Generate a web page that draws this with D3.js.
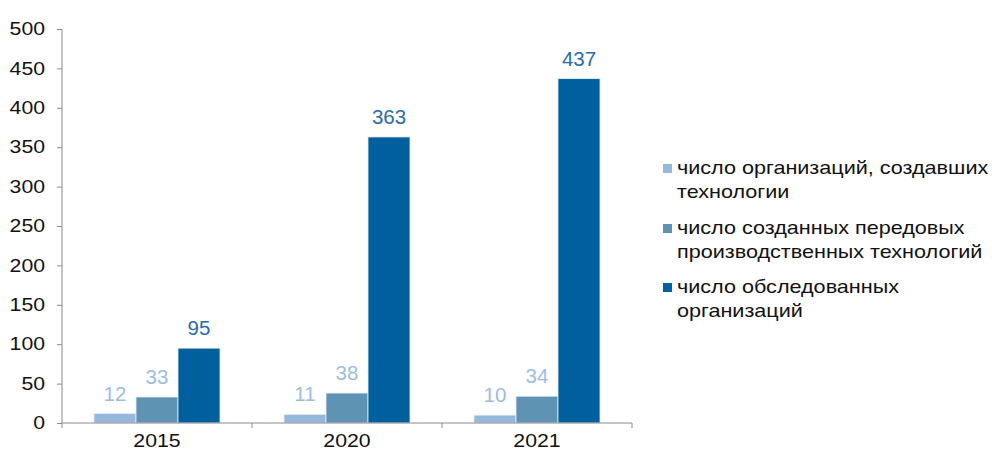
<!DOCTYPE html>
<html>
<head>
<meta charset="utf-8">
<script src="https://cdn.jsdelivr.net/npm/d3@7"></script>
<style>
  body { margin: 0; background: #fff; }
  svg { display: block; font-family: "Liberation Sans", Arial, sans-serif; }
</style>
</head>
<body>
<svg id="chart" width="992" height="457"></svg>
<script>
const years = ["2015", "2020", "2021"];
const seriesNames = [
  ["число организаций, создавших", "технологии"],
  ["число созданных передовых", "производственных технологий"],
  ["число обследованных", "организаций"]
];
const orgsCreated = [12, 11, 10];
const techCreated = [33, 38, 34];
const orgsSurveyed = [95, 363, 437];
const yTicks = [0, 50, 100, 150, 200, 250, 300, 350, 400, 450, 500];

const colors = ["#95b8dc", "#5f93b3", "#00609e"];
const labelColors = ["#9dbde0", "#9dbde0", "#2a6ca8"];

const series = [orgsCreated, techCreated, orgsSurveyed];

const svg = d3.select("#chart");
const plotLeft = 62, plotRight = 632, plotTop = 29, plotBottom = 423;

const x = d3.scaleBand().domain(years).range([plotLeft, plotRight]).paddingInner(0).paddingOuter(0);
const y = d3.scaleLinear().domain([0, 500]).range([plotBottom, plotTop]);
const xs = d3.scaleBand().domain(d3.range(series.length)).range([32, 190 - 32]);

// the source picture is a bit wider than tall, so text is stretched
function stretched(sel, px, py, sx) {
  return sel.attr("transform", `translate(${px},${py}) scale(${sx},1)`);
}

// y axis
const yAxis = svg.append("g")
  .attr("transform", `translate(${plotLeft},0)`)
  .call(d3.axisLeft(y).tickValues(yTicks).tickSize(5).tickPadding(12));
yAxis.select(".domain").attr("stroke", "#8c8c8c").attr("d", `M0,${plotBottom}V${plotTop}`);
yAxis.selectAll(".tick line").attr("stroke", "#8c8c8c");
yAxis.selectAll(".tick text")
  .attr("font-size", 18)
  .attr("fill", "#111")
  .attr("font-family", "Liberation Sans, Arial, sans-serif")
  .attr("x", -17 / 1.18)
  .attr("transform", "scale(1.18,1)");

// bars
years.forEach((yr, i) => {
  const g = svg.append("g").attr("transform", `translate(${x(yr)},0)`);
  series.forEach((s, k) => {
    g.append("rect")
      .attr("x", xs(k))
      .attr("y", y(s[i]))
      .attr("width", xs.bandwidth())
      .attr("height", plotBottom - y(s[i]))
      .attr("fill", colors[k])
      .attr("stroke", "#e8eef5")
      .attr("stroke-width", 0.8);
    g.append("text")
      .attr("x", xs(k) + xs.bandwidth() / 2)
      .attr("y", y(s[i]) - 13)
      .attr("text-anchor", "middle")
      .attr("font-size", 20.5)
      .attr("fill", labelColors[k])
      .text(s[i]);
  });
});

// x axis
const xAxis = svg.append("g")
  .attr("transform", `translate(0,${plotBottom})`);
xAxis.append("line").attr("x1", plotLeft).attr("x2", plotRight).attr("stroke", "#8c8c8c");
[plotLeft, x("2020"), x("2021"), plotRight].forEach(px => {
  xAxis.append("line").attr("x1", px).attr("x2", px).attr("y1", 0).attr("y2", 5).attr("stroke", "#8c8c8c");
});
years.forEach(yr => {
  stretched(xAxis.append("text"), x(yr) + x.bandwidth() / 2, 24, 1.12)
    .attr("text-anchor", "middle")
    .attr("font-size", 19)
    .attr("fill", "#111")
    .text(yr);
});

// legend
const legendY = [169, 229, 288];
const legend = svg.append("g");
seriesNames.forEach((lines, k) => {
  legend.append("rect")
    .attr("x", 663).attr("y", legendY[k] - 5)
    .attr("width", 9).attr("height", 9)
    .attr("fill", colors[k]);
  lines.forEach((ln, j) => {
    stretched(legend.append("text"), 677, legendY[k] + j * 24 + 5, 1.2)
      .attr("font-size", 18)
      .attr("fill", "#111")
      .text(ln);
  });
});
</script>
</body>
</html>
